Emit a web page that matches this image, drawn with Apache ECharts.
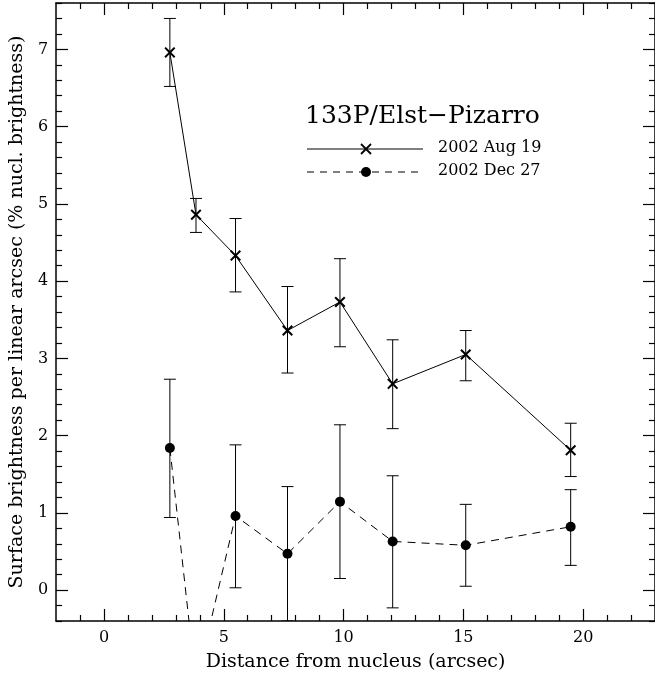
<!DOCTYPE html>
<html>
<head>
<meta charset="utf-8">
<script src="https://cdn.jsdelivr.net/npm/echarts@6/dist/echarts.min.js"></script>
<style>html,body{margin:0;padding:0;background:#fff}#c{width:655px;height:679px}</style>
</head>
<body>
<div id="c"></div>
<script>
// ---- data ----
const distances = [2.75, 3.84, 5.49, 7.66, 9.85, 12.05, 15.10, 19.48];
const aug19 = [6.96, 4.86, 4.33, 3.36, 3.73, 2.67, 3.05, 1.81];
const aug19Low = [6.52, 4.63, 3.86, 2.81, 3.15, 2.09, 2.71, 1.47];
const aug19High = [7.40, 5.07, 4.81, 3.93, 4.29, 3.24, 3.36, 2.16];
const dec27 = [1.84, -1.22, 0.96, 0.47, 1.145, 0.63, 0.58, 0.82];
const dec27Low = [0.94, null, 0.03, -0.40, 0.15, -0.23, 0.05, 0.32];
const dec27High = [2.73, null, 1.88, 1.34, 2.14, 1.48, 1.11, 1.30];
const xTickLabels = [0, 5, 10, 15, 20];
const yTickLabels = [0, 1, 2, 3, 4, 5, 6, 7];
const seriesNames = ['2002 Aug 19', '2002 Dec 27'];
const chartTitle = '133P/Elst\u2212Pizarro';
const xTitle = 'Distance from nucleus (arcsec)';
const yTitle = 'Surface brightness per linear arcsec (% nucl. brightness)';

const X_MIN = -2, X_MAX = 23, Y_MIN = -0.4, Y_MAX = 7.6;
const xMinor = []; for (let v = -1; v <= 22; v++) if (v % 5 !== 0) xMinor.push(v);
const yMinor = []; for (let i = -2; i <= 38; i++) if (i % 5 !== 0) yMinor.push(Math.round(i * 2) / 10);

const FONT = 'DejaVu Serif';
const black = '#000';

function xAx(pos, vals, len, labels, showLine) {
  return {
    type: 'value', position: pos, min: X_MIN, max: X_MAX,
    axisLine: {show: showLine, onZero: false, lineStyle: {color: black, width: 1.5}},
    axisTick: {show: true, inside: true, length: len, customValues: vals, lineStyle: {color: black, width: 1.2}},
    axisLabel: labels ? {show: true, customValues: xTickLabels, color: black, fontFamily: FONT, fontSize: 16, margin: 9} : {show: false},
    splitLine: {show: false}
  };
}
function yAx(pos, vals, len, labels, showLine) {
  return {
    type: 'value', position: pos, min: Y_MIN, max: Y_MAX,
    axisLine: {show: showLine, onZero: false, lineStyle: {color: black, width: 1.5}},
    axisTick: {show: true, inside: true, length: len, customValues: vals, lineStyle: {color: black, width: 1.2}},
    axisLabel: labels ? {show: true, customValues: yTickLabels, color: black, fontFamily: FONT, fontSize: 16, margin: 8} : {show: false},
    splitLine: {show: false}
  };
}

const xAxes = [xAx('bottom', xTickLabels, 12, true, true), xAx('bottom', xMinor, 6, false, false),
               xAx('top', xTickLabels, 12, false, true), xAx('top', xMinor, 6, false, false)];
xAxes[0].name = xTitle; xAxes[0].nameLocation = 'middle'; xAxes[0].nameGap = 32;
xAxes[0].nameTextStyle = {color: black, fontFamily: FONT, fontSize: 19};
const yAxes = [yAx('left', yTickLabels, 12, true, true), yAx('left', yMinor, 6, false, false),
               yAx('right', yTickLabels, 12, false, true), yAx('right', yMinor, 6, false, false)];
yAxes[0].name = yTitle; yAxes[0].nameLocation = 'middle'; yAxes[0].nameGap = 28;
yAxes[0].nameTextStyle = {color: black, fontFamily: FONT, fontSize: 19};

function errData(lo, hi) {
  const out = [];
  distances.forEach((x, i) => { if (lo[i] != null && hi[i] != null) out.push([x, lo[i], hi[i]]); });
  return out;
}
function renderErr(params, api) {
  const x = api.value(0), lo = api.value(1), hi = api.value(2);
  const a = api.coord([x, hi]), b = api.coord([x, lo]);
  const w = 6;
  const st = {stroke: black, lineWidth: 1};
  return {type: 'group', children: [
    {type: 'line', shape: {x1: a[0], y1: a[1], x2: b[0], y2: b[1]}, style: st},
    {type: 'line', shape: {x1: a[0] - w, y1: a[1], x2: a[0] + w, y2: a[1]}, style: st},
    {type: 'line', shape: {x1: b[0] - w, y1: b[1], x2: b[0] + w, y2: b[1]}, style: st}
  ]};
}

const crossPath = 'path://M0,1.3L1.3,0L5,3.7L8.7,0L10,1.3L6.3,5L10,8.7L8.7,10L5,6.3L1.3,10L0,8.7L3.7,5Z';

const chart = echarts.init(document.getElementById('c'), null, {renderer: 'canvas'});
chart.setOption({
  animation: false,
  backgroundColor: '#fff',
  grid: {left: 52, top: 3, right: -5, bottom: 58, containLabel: false},
  xAxis: xAxes,
  yAxis: yAxes,
  series: [
    {type: 'custom', name: seriesNames[0] + ' err', renderItem: renderErr, data: errData(aug19Low, aug19High), clip: true, z: 3},
    {type: 'custom', name: seriesNames[1] + ' err', renderItem: renderErr, data: errData(dec27Low, dec27High), clip: true, z: 3},
    {type: 'line', name: seriesNames[0], data: distances.map((x, i) => [x, aug19[i]]),
     symbol: crossPath, symbolSize: 11, showAllSymbol: true,
     lineStyle: {color: black, width: 1}, itemStyle: {color: black}, clip: true, z: 4},
    {type: 'line', name: seriesNames[1], data: distances.map((x, i) => [x, dec27[i]]),
     symbol: 'circle', symbolSize: 10, showAllSymbol: true,
     lineStyle: {color: black, width: 1, type: [8, 6]}, itemStyle: {color: black}, clip: true, z: 4}
  ],
  graphic: [
    {type: 'text', left: 305, top: 104, style: {text: chartTitle, fill: black, font: '25px "DejaVu Serif"'}},
    {type: 'line', shape: {x1: 307, y1: 149, x2: 423, y2: 149}, style: {stroke: black, lineWidth: 1}},
    {type: 'line', shape: {x1: 361, y1: 144, x2: 371, y2: 154}, style: {stroke: black, lineWidth: 1.8}},
    {type: 'line', shape: {x1: 371, y1: 144, x2: 361, y2: 154}, style: {stroke: black, lineWidth: 1.8}},
    {type: 'text', left: 438, top: 140, style: {text: seriesNames[0], fill: black, font: '16px "DejaVu Serif"'}},
    {type: 'line', shape: {x1: 307, y1: 172, x2: 423, y2: 172}, style: {stroke: black, lineWidth: 1, lineDash: [7, 6]}},
    {type: 'circle', shape: {cx: 366, cy: 172, r: 5}, style: {fill: black}},
    {type: 'text', left: 438, top: 163, style: {text: seriesNames[1], fill: black, font: '16px "DejaVu Serif"'}}
  ]
});
</script>
</body>
</html>
